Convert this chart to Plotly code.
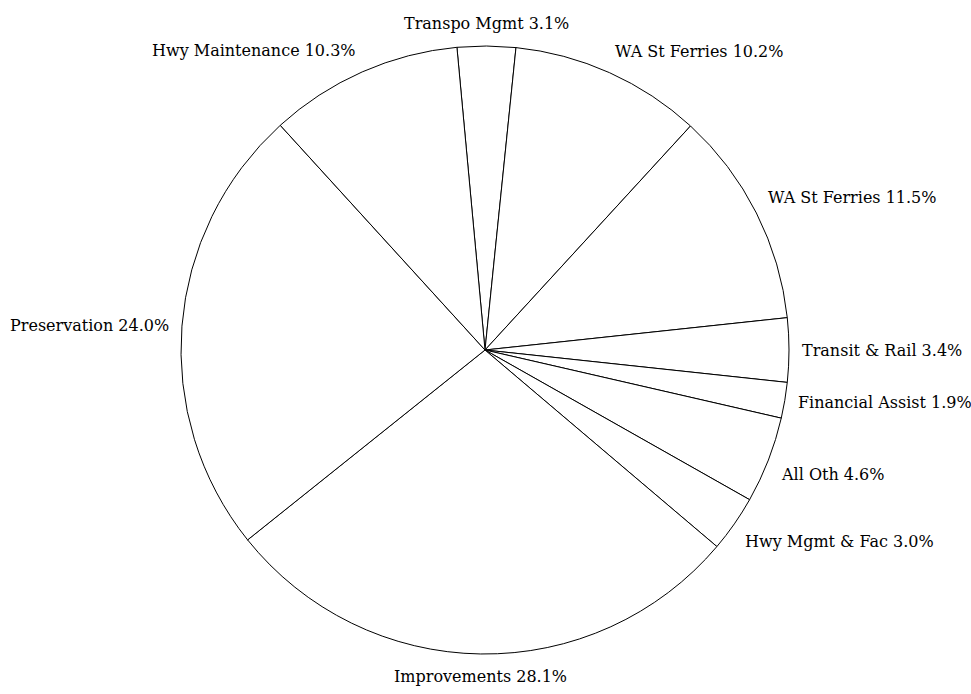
import math
import plotly.graph_objects as go

# Transportation budget shares, clockwise from the top
categories = [
    "Transpo Mgmt",
    "WA St Ferries (a)",
    "WA St Ferries (b)",
    "Transit & Rail",
    "Financial Assist",
    "All Oth",
    "Hwy Mgmt & Fac",
    "Improvements",
    "Preservation",
    "Hwy Maintenance",
]
display_names = [
    "Transpo Mgmt",
    "WA St Ferries",
    "WA St Ferries",
    "Transit & Rail",
    "Financial Assist",
    "All Oth",
    "Hwy Mgmt & Fac",
    "Improvements",
    "Preservation",
    "Hwy Maintenance",
]
shares = [3.1, 10.2, 11.5, 3.4, 1.9, 4.6, 3.0, 28.1, 24.0, 10.3]

# Figure geometry
WIDTH, HEIGHT = 971, 694
MARGIN = dict(l=50, r=51, t=46, b=40)
ROTATION = -5.3          # start angle of the first slice, degrees clockwise from 12 o'clock
LABEL_GAP = 12           # px between the rim and the label anchor
FONT = dict(family="DejaVu Serif", size=16, color="black")

plot_w = WIDTH - MARGIN["l"] - MARGIN["r"]
plot_h = HEIGHT - MARGIN["t"] - MARGIN["b"]
radius = min(plot_w, plot_h) / 2

fig = go.Figure(
    go.Pie(
        labels=categories,
        values=shares,
        textinfo="none",
        sort=False,
        direction="clockwise",
        rotation=ROTATION,
        marker=dict(colors=["white"] * len(shares), line=dict(color="black", width=1)),
        showlegend=False,
        hovertext=[f"{n} {v:.1f}%" for n, v in zip(display_names, shares)],
        hoverinfo="text",
        automargin=False,
    )
)

# Labels sit just outside the rim at each slice's mid-angle
total = sum(shares)
cum = 0.0
for name, v in zip(display_names, shares):
    mid = ROTATION + (cum + v / 2) / total * 360.0
    cum += v
    s, c = math.sin(math.radians(mid)), math.cos(math.radians(mid))
    r = radius + LABEL_GAP
    x = 0.5 + r * s / plot_w
    y = 0.5 + r * c / plot_h
    xanchor = "left" if s > 0.3 else ("right" if s < -0.3 else "center")
    yanchor = "bottom" if c > 0.4 else ("top" if c < -0.3 else "middle")
    fig.add_annotation(
        x=x, y=y, xref="paper", yref="paper",
        text=f"{name} {v:.1f}%",
        showarrow=False,
        xanchor=xanchor, yanchor=yanchor,
        borderpad=0,
        font=FONT,
    )

fig.update_layout(
    width=WIDTH,
    height=HEIGHT,
    margin=MARGIN,
    paper_bgcolor="white",
    plot_bgcolor="white",
)

fig.write_html("out.html")
